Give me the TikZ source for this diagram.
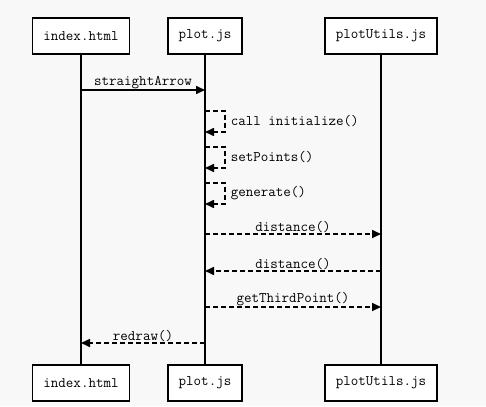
\documentclass[tikz,border=0pt]{standalone}
\usepackage{fontspec}
\usetikzlibrary{positioning,arrows.meta}

\definecolor{bggray}{RGB}{248,248,248}

\tikzset{
  obj/.style={draw, fill=white, line width=1.8pt, minimum height=36pt,
              inner xsep=11pt, font=\ttfamily\fontsize{14.6}{16}\selectfont},
  life/.style={line width=1.8pt},
  msg/.style={line width=1.6pt, -{Triangle[length=9pt,width=8pt]}},
  ret/.style={msg, dash pattern=on 5pt off 3pt},
  lbl/.style={inner sep=1pt, font=\ttfamily\fontsize{14.6}{16}\selectfont}
}

\begin{document}
\begin{tikzpicture}[x=1pt, y=-1pt]

\fill[bggray] (0,0) rectangle (486,406);
\useasboundingbox (0,0) rectangle (486,406);

% Define nodes
\node[obj] (idxT)  at (81,36)  {index.html};
\node[obj] (plotT) at (205,36) {plot.js};
\node[obj] (utilT) at (381,36) {plotUtils.js};
\node[obj, below=309pt of idxT]  (idxB)  {index.html};
\node[obj, below=309pt of plotT] (plotB) {plot.js};
\node[obj, below=309pt of utilT] (utilB) {plotUtils.js};

% Lifelines
\draw[life] (idxT) -- (idxB);
\draw[life] (plotT) -- (plotB);
\draw[life] (utilT) -- (utilB);

% points on the lifelines
\foreach \y in {90,111,132,147,168,183,204,234,271,307,343} {
  \coordinate (i\y) at (idxT |- 0,\y);
  \coordinate (p\y) at (plotT |- 0,\y);
  \coordinate (u\y) at (utilT |- 0,\y);
}

% Connect the nodes
\draw[msg] (i90) -- (p90) node[lbl, midway, above=-0.5pt] {straightArrow};
\draw[ret] (p111) -- ++(20,0) |- (p132) node[lbl, pos=0.25, right=4pt] {call initialize()};
\draw[ret] (p147) -- ++(20,0) |- (p168) node[lbl, pos=0.25, right=4pt] {setPoints()};
\draw[ret] (p183) -- ++(20,0) |- (p204) node[lbl, pos=0.25, right=4pt] {generate()};
\draw[ret] (p234) -- (u234) node[lbl, midway, above=-0.5pt] {distance()};
\draw[ret] (u271) -- (p271) node[lbl, midway, above=-0.5pt] {distance()};
\draw[ret] (p307) -- (u307) node[lbl, midway, above=-0.5pt] {getThirdPoint()};
\draw[ret] (p343) -- (i343) node[lbl, midway, above=-0.5pt] {redraw()};

\end{tikzpicture}
\end{document}
